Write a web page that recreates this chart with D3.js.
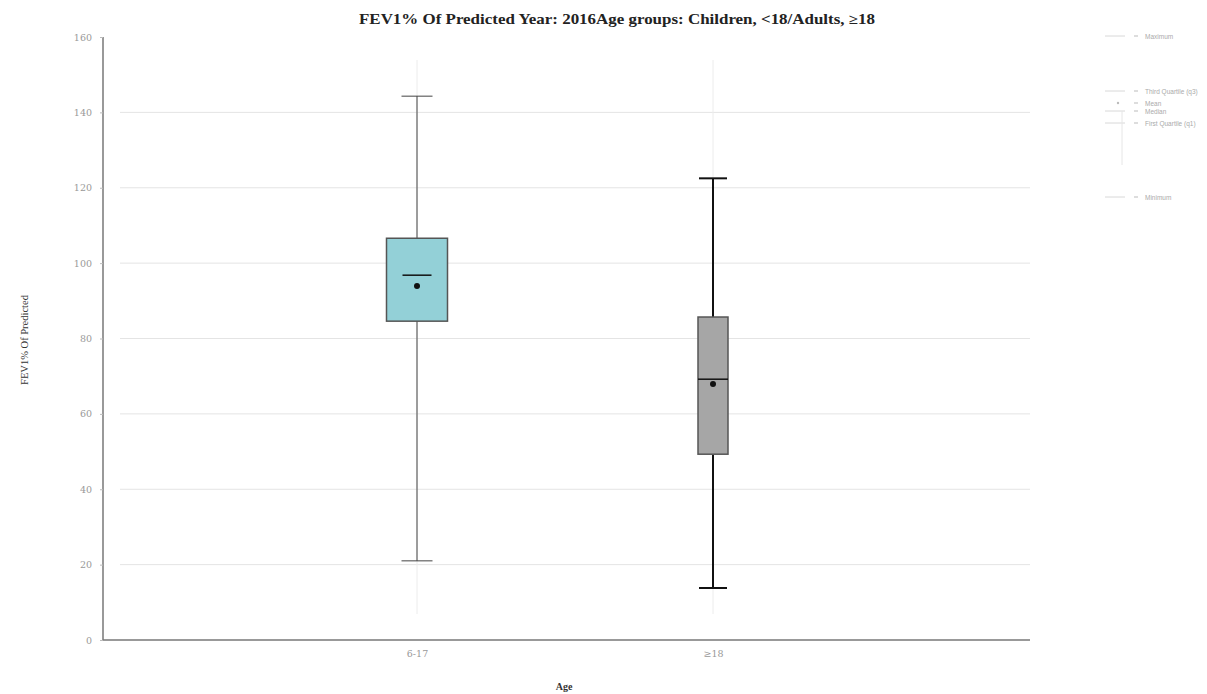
<!DOCTYPE html>
<html><head><meta charset="utf-8">
<script src="https://cdn.jsdelivr.net/npm/d3@7"></script>
<style>body{margin:0;background:#fff;} svg{display:block;}</style>
</head><body>
<svg id="c" width="1207" height="694"></svg>
<script>
const categories = ["6-17", "≥18"];
const maxima = [144.3, 122.5];
const q3s = [106.6, 85.7];
const medians = [96.8, 69.2];
const means = [93.9, 67.9];
const q1s = [84.6, 49.3];
const minima = [21.0, 13.8];
const boxColors = ["#93d0d7", "#a6a6a6"];
const yTicks = [0, 20, 40, 60, 80, 100, 120, 140, 160];
const legendItems = ["Maximum", "Third Quartile (q3)", "Mean", "Median", "First Quartile (q1)", "Minimum"];

(function () {
const svg = d3.select("#c");
const mLeft = 103, mRight = 1030, mTop = 37, mBottom = 640;
const y = d3.scaleLinear().domain([0, 160]).range([mBottom, mTop]);
const x = d3.scalePoint().domain(categories).range([417, 713]);
const boxW = [61, 30];
const capW = [31, 28];
const whiskW = [1, 2];

// horizontal grid
svg.append("g").selectAll("line").data(yTicks.filter(d => d > 0 && d < 160)).join("line")
  .attr("x1", 120).attr("x2", mRight).attr("y1", d => y(d)).attr("y2", d => y(d))
  .attr("stroke", "#e4e4e4").attr("stroke-width", 1);
// vertical grid at categories
svg.append("g").selectAll("line").data(categories).join("line")
  .attr("x1", d => x(d)).attr("x2", d => x(d)).attr("y1", 60).attr("y2", 614)
  .attr("stroke", "#ececec").attr("stroke-width", 1);

// axes
const yAxis = d3.axisLeft(y).tickValues(yTicks).tickSize(3).tickPadding(8);
const gy = svg.append("g").attr("transform", `translate(${mLeft},0)`).call(yAxis);
gy.select(".domain").attr("stroke", "#777").attr("stroke-width", 1.5).attr("d", `M0,${mTop}V${mBottom}`);
gy.selectAll(".tick line").attr("stroke", "#bbb");
gy.selectAll(".tick text").attr("font-family", "DejaVu Serif, serif").attr("font-size", 9.5).attr("fill", "#999");

const xAxis = d3.axisBottom(x).tickSize(0).tickPadding(10);
const gx = svg.append("g").attr("transform", `translate(0,${mBottom})`).call(xAxis);
gx.select(".domain").attr("stroke", "#777").attr("stroke-width", 1.5).attr("d", `M${mLeft},0H${mRight}`);
gx.selectAll(".tick text").attr("font-family", "DejaVu Serif, serif").attr("font-size", 9.5).attr("fill", "#999");

// boxes
const data = categories.map((c, i) => ({c, i, max: maxima[i], q3: q3s[i], med: medians[i], mean: means[i], q1: q1s[i], min: minima[i]}));
const g = svg.append("g").selectAll("g").data(data).join("g");
const wc = d => d.i === 0 ? "#444" : "#111";
g.append("line").attr("x1", d => x(d.c)).attr("x2", d => x(d.c))
  .attr("y1", d => y(d.max)).attr("y2", d => y(d.q3))
  .attr("stroke", wc).attr("stroke-width", d => whiskW[d.i]);
g.append("line").attr("x1", d => x(d.c)).attr("x2", d => x(d.c))
  .attr("y1", d => y(d.q1)).attr("y2", d => y(d.min))
  .attr("stroke", wc).attr("stroke-width", d => whiskW[d.i]);
g.append("line").attr("x1", d => x(d.c) - capW[d.i] / 2).attr("x2", d => x(d.c) + capW[d.i] / 2)
  .attr("y1", d => y(d.max)).attr("y2", d => y(d.max))
  .attr("stroke", wc).attr("stroke-width", d => whiskW[d.i]);
g.append("line").attr("x1", d => x(d.c) - capW[d.i] / 2).attr("x2", d => x(d.c) + capW[d.i] / 2)
  .attr("y1", d => y(d.min)).attr("y2", d => y(d.min))
  .attr("stroke", wc).attr("stroke-width", d => whiskW[d.i]);
g.append("rect").attr("x", d => x(d.c) - boxW[d.i] / 2).attr("width", d => boxW[d.i])
  .attr("y", d => y(d.q3)).attr("height", d => y(d.q1) - y(d.q3))
  .attr("fill", d => boxColors[d.i]).attr("stroke", "#555").attr("stroke-width", 1.5);
g.append("line").attr("x1", d => x(d.c) - boxW[d.i] / 2 + (d.i === 0 ? 16 : 0)).attr("x2", d => x(d.c) + boxW[d.i] / 2 - (d.i === 0 ? 16 : 0))
  .attr("y1", d => y(d.med)).attr("y2", d => y(d.med))
  .attr("stroke", "#111").attr("stroke-width", 1.5);
g.append("circle").attr("cx", d => x(d.c)).attr("cy", d => y(d.mean)).attr("r", 3).attr("fill", "#111");

// title
svg.append("text").attr("x", 617).attr("y", 24).attr("text-anchor", "middle")
  .attr("font-family", "Liberation Serif, serif").attr("font-weight", "bold").attr("font-size", 14).attr("fill", "#222")
  .attr("textLength", 516).attr("lengthAdjust", "spacingAndGlyphs")
  .text("FEV1% Of Predicted Year: 2016Age groups: Children, <18/Adults, ≥18");
// axis titles
svg.append("text").attr("x", 564).attr("y", 690).attr("text-anchor", "middle")
  .attr("font-family", "Liberation Serif, serif").attr("font-weight", "bold").attr("font-size", 10).attr("fill", "#333").text("Age");
svg.append("text").attr("transform", "translate(28,340) rotate(-90)").attr("text-anchor", "middle")
  .attr("font-family", "Liberation Serif, serif").attr("font-size", 10.5).attr("fill", "#333").text("FEV1% Of Predicted");

// legend
const legY = [36, 91, 103, 111, 123, 197];
const lg = svg.append("g").selectAll("g").data(legendItems).join("g")
  .attr("transform", (d, i) => `translate(0,${legY[i]})`);
lg.append("line").attr("x1", 1105).attr("x2", 1125).attr("y1", 0).attr("y2", 0)
  .attr("stroke", (d, i) => i === 2 ? "none" : "#d8d8d8");
lg.filter((d, i) => i === 2).append("circle").attr("cx", 1118).attr("cy", 0).attr("r", 1.2).attr("fill", "#bbb");
lg.append("line").attr("x1", 1134).attr("x2", 1138).attr("y1", 0).attr("y2", 0).attr("stroke", "#bbb");
lg.append("text").attr("x", 1145).attr("y", 2.5).attr("font-family", "Liberation Sans, sans-serif").attr("font-size", 6.5).attr("fill", "#aaa").text(d => d);
svg.append("line").attr("x1", 1122).attr("x2", 1122).attr("y1", 111).attr("y2", 165).attr("stroke", "#e6e6e6");
})();
</script>
</body></html>
